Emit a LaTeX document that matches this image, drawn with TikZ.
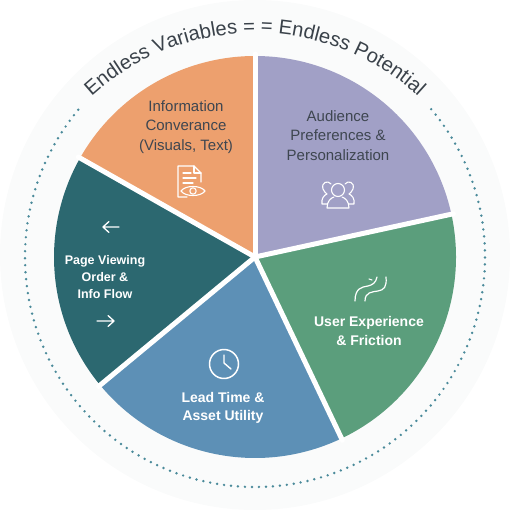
\documentclass[tikz,border=0pt]{standalone}
\usepackage{fontspec}
\setmainfont{Liberation Sans}
\usetikzlibrary{decorations.text}
\definecolor{cdisk}{HTML}{FAFBFB}
\definecolor{corange}{HTML}{EDA06E}
\definecolor{cpurple}{HTML}{A1A0C6}
\definecolor{cgreen}{HTML}{5B9E7C}
\definecolor{cblue}{HTML}{5D90B6}
\definecolor{cteal}{HTML}{2C6870}
\definecolor{cdots}{HTML}{4A8A9A}
\definecolor{cdark}{HTML}{3E4650}
\definecolor{ctitle}{HTML}{3A424A}
\tikzset{
  wedgefill/.style={draw=none},
  gapline/.style={draw=white,line width=5pt},
  darklabel/.style={align=center,text=cdark,font=\fontsize{15}{19.5}\selectfont,inner sep=0pt},
  whitelabel/.style={align=center,text=white,font=\bfseries\fontsize{14}{18.5}\selectfont,inner sep=0pt},
  smalllabel/.style={align=center,text=white,font=\bfseries\fontsize{12.5}{17}\selectfont,inner sep=0pt},
  iconw/.style={draw=white,line width=1.3pt,line cap=round,line join=round},
  arrowicon/.style={draw=white,line width=1.3pt,line cap=round,line join=round}
}
\begin{document}
\begin{tikzpicture}[x=1pt,y=-1pt]
\useasboundingbox (0,0) rectangle (510,510);
\fill[cdisk] (255,255) circle[radius=255];
\coordinate (c) at (255,257);
\def\R{201}
% wedges
\fill[cpurple,wedgefill] (c) -- ([shift={(c)}]-90:\R) arc[start angle=-90,end angle=-12.3,radius=\R] -- cycle;
\fill[cgreen,wedgefill] (c) -- ([shift={(c)}]-12.3:\R) arc[start angle=-12.3,end angle=64.5,radius=\R] -- cycle;
\fill[cblue,wedgefill] (c) -- ([shift={(c)}]64.5:\R) arc[start angle=64.5,end angle=140.4,radius=\R] -- cycle;
\fill[cteal,wedgefill] (c) -- ([shift={(c)}]140.4:\R) arc[start angle=140.4,end angle=209.5,radius=\R] -- cycle;
\fill[corange,wedgefill] (c) -- ([shift={(c)}]209.5:\R) arc[start angle=209.5,end angle=270,radius=\R] -- cycle;
% gaps
\foreach \a in {-90,-12.3,64.5,140.4,209.5}{
  \draw[gapline,line cap=round] (c) -- ([shift={(c)}]\a:203);
}
% dotted ring
\draw[cdots,line width=2.7pt,line cap=round,dash pattern=on 0pt off 7pt]
  ([shift={(255,257)}]-40:230) arc[start angle=-40,end angle=220,radius=230];
% curved title
\path[decorate,decoration={text along path,text align=center,
  text={|\fontsize{20.2}{21}\selectfont\color{ctitle}|Endless Variables = = Endless Potential}}]
  ([shift={(255,275)}]-136:242) arc[start angle=-136,end angle=-44,radius=242];
% labels
\node[darklabel] (info) at (186,127) {Information\\Converance\\(Visuals, Text)};
\node[darklabel] (aud) at (338,135.5) {Audience\\Preferences \&\\Personalization};
\node[smalllabel] (page) at (105,277) {Page Viewing\\Order \&\\Info Flow};
\node[whitelabel] (user) at (369,331) {User Experience\\\& Friction};
\node[whitelabel] (lead) at (223,408) {Lead Time \&\\Asset Utility};
% doc-eye icon
\draw[iconw,line width=1.1pt] (187,197) -- (178,197) -- (178,166) -- (194,166) -- (201,173) -- (201,182);
\draw[iconw,line width=1.1pt] (194,166) -- (194,173) -- (201,173);
\draw[iconw,line width=1.1pt] (183,173) -- (191,173) (183,178) -- (196,178) (183,183) -- (193,183);
\draw[iconw,line width=1.1pt] (181,191) .. controls (185,185) and (201,185) .. (205,191) .. controls (201,197) and (185,197) .. (181,191) -- cycle;
\draw[iconw,line width=1.1pt] (193,191) circle[radius=3.2];
% people icon
\draw[iconw,line width=1.1pt] (338,190) circle[radius=6.5];
\draw[iconw,line width=1.1pt] (327,208) .. controls (327,201) and (331,198) .. (334,197) (342,197) .. controls (345,198) and (349,201) .. (349,208) -- (327,208);
\draw[iconw,line width=1.1pt] (331,184) .. controls (328,180) and (321,182) .. (323,189) .. controls (324,192) and (326,193) .. (327,194) .. controls (324,195) and (321,199) .. (322,204) -- (327,204);
\draw[iconw,line width=1.1pt] (345,184) .. controls (348,180) and (355,182) .. (353,189) .. controls (352,192) and (350,193) .. (349,194) .. controls (352,195) and (355,199) .. (354,204) -- (349,204);
% arrows
\draw[arrowicon] (119,227) -- (103,227) (109,221.5) -- (103,227) -- (109,232.5);
\draw[arrowicon] (97,321) -- (114,321) (108,315.5) -- (114,321) -- (108,326.5);
% clock
\draw[iconw,line width=1.5pt] (224,364) circle[radius=14.5];
\draw[iconw,line width=1.4pt] (224,355) -- (224,363) -- (231,369);
% path icon
\draw[iconw,line width=1.2pt] (355,301) .. controls (355,288) and (362,287) .. (368,286) .. controls (372,285) and (376,283) .. (377,277);
\draw[iconw,line width=1.2pt] (365,301) .. controls (365,292) and (372,292) .. (378,291) .. controls (384,290) and (387,287) .. (386,277);
\draw[iconw,line width=1.1pt] (369,279) -- (372,280);
\end{tikzpicture}
\end{document}
